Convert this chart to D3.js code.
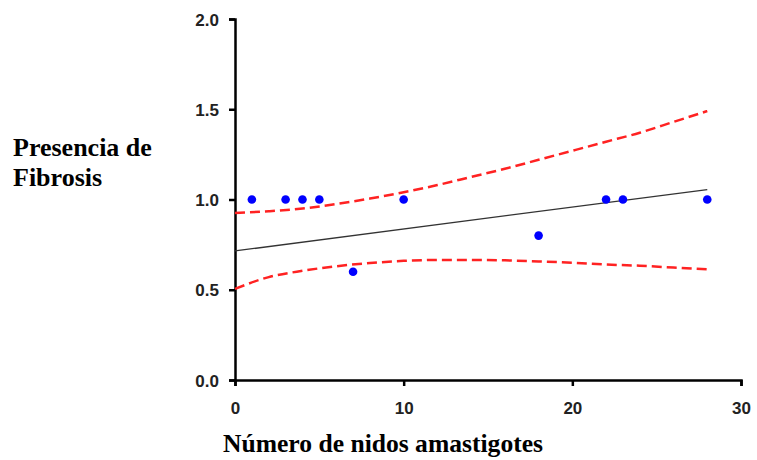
<!DOCTYPE html>
<html><head><meta charset="utf-8">
<script src="https://cdn.jsdelivr.net/npm/d3@7"></script>
<style>body{margin:0;background:#fff}svg{display:block}</style>
</head><body>
<svg id="c" width="757" height="460"></svg>
<script>
const pointX = [1, 3, 4, 5, 7, 10, 18, 22, 23, 28];
const pointY = [1.0, 1.0, 1.0, 1.0, 0.6, 1.0, 0.8, 1.0, 1.0, 1.0];
const fitX = [0, 28];
const fitY = [0.715, 1.055];
const bandX = [0, 2, 4, 6, 8, 10, 12, 14, 16, 18, 20, 22, 24, 26, 28];
const upperY = [0.925, 0.935, 0.95, 0.975, 1.005, 1.04, 1.08, 1.125, 1.17, 1.22, 1.27, 1.32, 1.37, 1.43, 1.49];
const lowerY = [0.505, 0.57, 0.605, 0.63, 0.648, 0.66, 0.665, 0.665, 0.663, 0.657, 0.65, 0.64, 0.633, 0.623, 0.613];
const xTicks = [0, 10, 20, 30];
const yTicks = [0, 0.5, 1.0, 1.5, 2.0];
const xTitle = "Número de nidos amastigotes";
const yTitle = ["Presencia de", "Fibrosis"];

const svg = d3.select("#c");
const x = d3.scaleLinear().domain([0, 30]).range([235, 741]);
const y = d3.scaleLinear().domain([0, 2]).range([380, 19]);

const xa = svg.append("g").attr("transform", "translate(0,380)")
  .call(d3.axisBottom(x).tickValues(xTicks).tickFormat(d3.format("d")).tickSize(6));
const ya = svg.append("g").attr("transform", "translate(235,0)")
  .call(d3.axisLeft(y).tickValues(yTicks).tickFormat(d3.format(".1f")).tickSize(6).tickPadding(10));
[xa, ya].forEach(a => {
  a.select(".domain").attr("stroke", "#000").attr("stroke-width", 2.5);
  a.selectAll(".tick line").attr("stroke", "#000").attr("stroke-width", 2.5);
  a.selectAll(".tick text").attr("fill", "#222").style("font-family", "Liberation Sans, Arial, sans-serif")
    .style("font-weight", "bold").style("font-size", "17px");
});
xa.selectAll(".tick text").attr("y", 34).attr("dy", 0);
ya.selectAll(".tick text").attr("dy", "0.36em");

const band = (ys) => d3.line().curve(d3.curveMonotoneX).x((d, i) => x(bandX[i])).y(d => y(d))(ys);
svg.append("path").attr("d", band(upperY)).attr("fill", "none").attr("stroke", "#ff2222")
  .attr("stroke-width", 2.5).attr("stroke-dasharray", "10,5");
svg.append("path").attr("d", band(lowerY)).attr("fill", "none").attr("stroke", "#ff2222")
  .attr("stroke-width", 2.5).attr("stroke-dasharray", "10,5");
svg.append("path").attr("d", d3.line().x((d, i) => x(fitX[i])).y(d => y(d))(fitY))
  .attr("fill", "none").attr("stroke", "#333").attr("stroke-width", 1.3);

svg.append("g").selectAll("circle").data(pointX).join("circle")
  .attr("cx", d => x(d)).attr("cy", (d, i) => y(pointY[i])).attr("r", 4.3).attr("fill", "#0000ff");

svg.append("text").attr("x", 223).attr("y", 452)
  .attr("textLength", 320).attr("lengthAdjust", "spacingAndGlyphs")
  .style("font-family", "Liberation Serif, Times New Roman, serif").style("font-weight", "bold")
  .style("font-size", "25px").attr("fill", "#000").text(xTitle);
yTitle.forEach((t, i) => svg.append("text").attr("x", 13).attr("y", 156 + i * 30)
  .style("font-family", "Liberation Serif, Times New Roman, serif").style("font-weight", "bold")
  .style("font-size", "26px").attr("fill", "#000").text(t));
</script>
</body></html>
